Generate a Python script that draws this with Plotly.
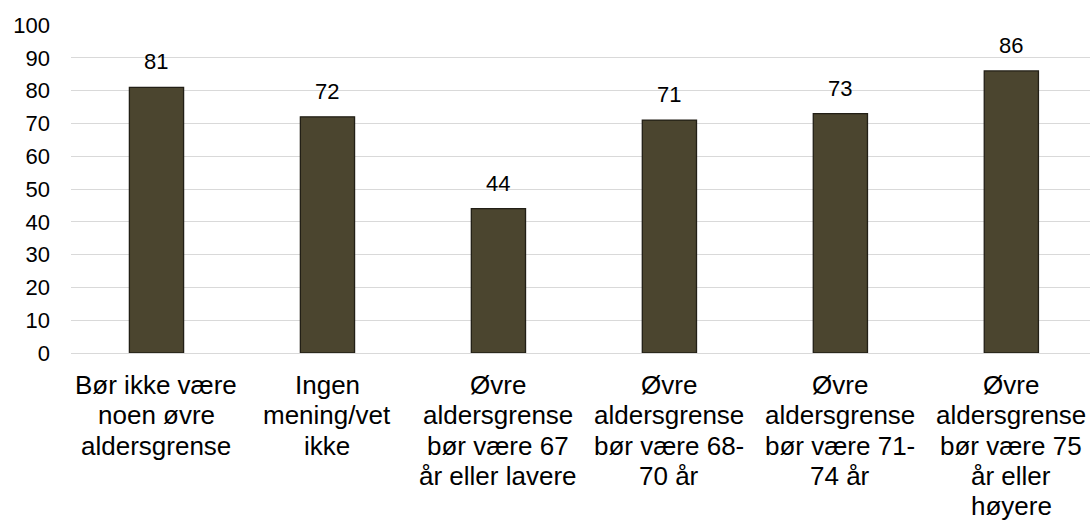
import plotly.graph_objects as go

categories = [
    "Bør ikke være<br>noen øvre<br>aldersgrense",
    "Ingen<br>mening/vet<br>ikke",
    "Øvre<br>aldersgrense<br>bør være 67<br>år eller lavere",
    "Øvre<br>aldersgrense<br>bør være 68-<br>70 år",
    "Øvre<br>aldersgrense<br>bør være 71-<br>74 år",
    "Øvre<br>aldersgrense<br>bør være 75<br>år eller<br>høyere",
]
values = [81, 72, 44, 71, 73, 86]
y_ticks = list(range(0, 101, 10))

FONT = "Liberation Sans, Arial, sans-serif"
x_idx = list(range(len(categories)))

fig = go.Figure()
fig.add_trace(go.Bar(
    x=x_idx,
    y=values,
    width=0.317,
    marker=dict(color="#4B452F", line=dict(color="#221F16", width=1.3)),
    hoverinfo="skip",
))

# value labels above bars
for xi, v in zip(x_idx, values):
    fig.add_annotation(
        x=xi, y=v, text=str(v), showarrow=False,
        yanchor="bottom", yshift=11,
        font=dict(family=FONT, size=22, color="#000000"),
    )

# category labels (one annotation per line for Excel-like line spacing)
LABEL_OFFSET = 32
LINE_STEP = 30.3
for xi, cat in zip(x_idx, categories):
    for li, line in enumerate(cat.split("<br>")):
        fig.add_annotation(
            x=xi, y=0, xref="x", yref="y", text=line, showarrow=False,
            xanchor="center", yanchor="middle",
            yshift=-(LABEL_OFFSET + LINE_STEP * li),
            font=dict(family=FONT, size=26, color="#000000"),
        )

fig.update_layout(
    width=1090, height=520,
    margin=dict(l=71, r=0, t=24.5, b=166.7, autoexpand=False),
    paper_bgcolor="white", plot_bgcolor="white",
    showlegend=False,
    font=dict(family=FONT, color="#000000"),
)
fig.update_xaxes(
    range=[-0.5, 5.46],
    tickmode="array", tickvals=x_idx, ticktext=categories,
    showticklabels=False,
    showgrid=False, zeroline=False, showline=False, ticks="",
    automargin=False,
)
fig.update_yaxes(
    range=[0, 100],
    tickmode="array", tickvals=y_ticks, ticktext=[str(t) for t in y_ticks],
    tickfont=dict(family=FONT, size=22, color="#000000"),
    showgrid=True, gridcolor="#D9D9D9", gridwidth=1.3,
    zeroline=True, zerolinecolor="#D9D9D9", zerolinewidth=1.3,
    showline=False, ticks="", ticklabelstandoff=20, automargin=False,
)

fig.write_html(
    "out.html",
    config={"displayModeBar": False},
    post_script="document.body.style.margin='0';document.body.style.overflow='hidden';",
)
